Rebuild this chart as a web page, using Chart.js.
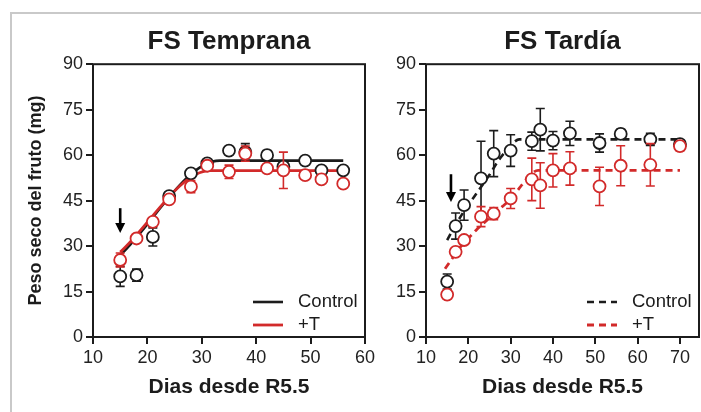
<!DOCTYPE html>
<html>
<head>
<meta charset="utf-8">
<script src="https://cdn.jsdelivr.net/npm/chart.js@4.4.1/dist/chart.umd.min.js"></script>
<style>
html,body{margin:0;padding:0;background:#fff;}
#wrap{position:relative;width:701px;height:412px;overflow:hidden;background:#fff;}
#frame{position:absolute;left:10px;top:12px;width:720px;height:430px;border-left:2px solid #c9c9c9;border-top:2px solid #c9c9c9;}
#c1{position:absolute;left:0;top:0;}
#c2{position:absolute;left:380px;top:0;}
</style>
</head>
<body>
<div id="wrap">
<div id="frame"></div>
<canvas id="c1" width="380" height="412"></canvas>
<canvas id="c2" width="335" height="412"></canvas>
</div>
<script>
// ---------- FS Temprana (early) ----------
const earlyDays       = [15, 18, 21, 24, 28, 31, 35, 38, 42, 45, 49, 52, 56];
const earlyControl    = [20, 20.4, 33, 46.5, 54, 57.3, 61.5, 61, 60, 56.2, 58.2, 55, 55];
const earlyControlErr = [3.3, 2, 3, 1, 1, 1, 1, 2.8, 1.5, 1.5, 1, 1.2, 1];
const earlyT          = [25.4, 32.5, 38, 45.4, 49.6, 56.5, 54.5, 60.5, 55.6, 55, 53.4, 52, 50.6];
const earlyTErr       = [2.3, 1, 1, 1, 2, 1, 2.2, 2.5, 1, 6, 1, 1, 1];
const earlyFitDaysControl = [15, 33.3, 56];
const earlyFitControl     = [27, 58.2, 58.2];
const earlyFitDaysT       = [15, 31.5, 56];
const earlyFitT           = [28, 54.9, 54.9];

// ---------- FS Tardía (late) ----------
const lateDays       = [15, 17, 19, 23, 26, 30, 35, 37, 40, 44, 51, 56, 63, 70];
const lateControl    = [18.3, 36.6, 43.5, 52.3, 60.5, 61.5, 64.6, 68.4, 64.8, 67.2, 64, 67, 65.2, 63.6];
const lateControlErr = [2.5, 4.3, 5, 12.3, 7.6, 5.2, 3, 7, 3, 4, 3, 1.5, 2, 1];
const lateT          = [14, 28.1, 32, 39.7, 40.7, 45.7, 52, 50, 55, 55.6, 49.7, 56.5, 56.8, 63];
const lateTErr       = [1, 1, 1, 3.3, 2, 3.3, 7, 7.5, 5.5, 5.5, 6.3, 6.6, 7, 1.5];
const lateFitDaysControl = [15, 17, 19, 21, 23, 25, 27, 29, 31, 32, 70];
const lateFitControl     = [32, 37, 41.5, 45.5, 49.5, 53.5, 58, 61.5, 64.5, 65.2, 65.2];
const lateFitDaysT       = [14.5, 16, 18, 20, 22, 24, 26, 28, 30, 32, 34, 36.5, 70];
const lateFitT           = [22.5, 25.5, 29.5, 32.5, 35.5, 38, 40.5, 43, 45.5, 49, 52.5, 55, 55];

// ---------- arrows (FS Temprana, FS Tardía) ----------
const arrowDays = [15, 15.9];
const arrowFrom = [42.5, 53.7];
const arrowTo   = [34.3, 44.5];

// ---------- axes ----------
const yTicks = [0, 15, 30, 45, 60, 75, 90];
const titles = ['FS Temprana', 'FS Tardía'];
const xTitle = 'Dias desde R5.5';
const yTitle = 'Peso seco del fruto (mg)';
const seriesNames = ['Control', '+T'];

const BLACK = '#1c1c1c';
const RED = '#d22a2a';
const FONT = "'Liberation Sans', Arial, Helvetica, sans-serif";

const pts = (xs, ys) => xs.map((x, i) => ({x: x, y: ys[i]}));

const errorBarPlugin = {
  id: 'errorBars',
  beforeDatasetDraw(chart, args) {
    const ds = chart.data.datasets[args.index];
    if (!ds.errors) return;
    const {ctx, scales: {x, y}} = chart;
    ctx.save();
    ctx.strokeStyle = ds.borderColor;
    ctx.lineWidth = 1.6;
    ds.data.forEach((p, i) => {
      const e = ds.errors[i];
      const px = x.getPixelForValue(p.x);
      const top = y.getPixelForValue(p.y + e);
      const bot = y.getPixelForValue(p.y - e);
      ctx.beginPath();
      ctx.moveTo(px, top); ctx.lineTo(px, bot);
      ctx.moveTo(px - 4.5, top); ctx.lineTo(px + 4.5, top);
      ctx.moveTo(px - 4.5, bot); ctx.lineTo(px + 4.5, bot);
      ctx.stroke();
    });
    ctx.restore();
  }
};

const framePlugin = {
  id: 'frame',
  beforeDatasetsDraw(chart) {
    const {ctx, chartArea: a} = chart;
    ctx.save();
    ctx.strokeStyle = BLACK;
    ctx.lineWidth = 2;
    ctx.strokeRect(a.left, a.top, a.right - a.left, a.bottom - a.top);
    ctx.restore();
  }
};

const legendPlugin = {
  id: 'innerLegend',
  afterDraw(chart) {
    const {ctx, chartArea: a} = chart;
    const items = chart.data.datasets.filter(d => d.inLegend);
    ctx.save();
    items.forEach((d, i) => {
      const yy = a.bottom - 35 + i * 23;
      ctx.strokeStyle = d.borderColor;
      ctx.lineWidth = d.borderWidth;
      ctx.setLineDash(d.borderDash || []);
      ctx.beginPath();
      ctx.moveTo(a.right - 112, yy);
      ctx.lineTo(a.right - 82, yy);
      ctx.stroke();
      ctx.setLineDash([]);
      ctx.fillStyle = BLACK;
      ctx.font = '18.5px ' + FONT;
      ctx.textBaseline = 'middle';
      ctx.textAlign = 'left';
      ctx.fillText(d.label, a.right - 67, yy);
    });
    ctx.restore();
  }
};

const arrowPlugin = {
  id: 'arrow',
  afterDatasetsDraw(chart, args, opts) {
    const {ctx, scales: {x, y}} = chart;
    const px = x.getPixelForValue(opts.day);
    const y0 = y.getPixelForValue(opts.from);
    const y1 = y.getPixelForValue(opts.to);
    ctx.save();
    ctx.strokeStyle = '#000';
    ctx.fillStyle = '#000';
    ctx.lineWidth = 2.6;
    ctx.beginPath();
    ctx.moveTo(px, y0); ctx.lineTo(px, y1 - 8);
    ctx.stroke();
    ctx.beginPath();
    ctx.moveTo(px - 5, y1 - 10);
    ctx.lineTo(px + 5, y1 - 10);
    ctx.lineTo(px, y1);
    ctx.closePath();
    ctx.fill();
    ctx.restore();
  }
};

function makeChart(canvasId, cfg) {
  const datasets = [
    {
      type: 'line', label: seriesNames[0], inLegend: true,
      data: pts(cfg.fitDaysC, cfg.fitC),
      borderColor: BLACK, borderWidth: 2.6, borderDash: cfg.dash ? [7, 5] : [],
      pointRadius: 0, fill: false, order: 6,
      cubicInterpolationMode: 'monotone'
    },
    {
      type: 'line', label: seriesNames[1], inLegend: true,
      data: pts(cfg.fitDaysT, cfg.fitT),
      borderColor: RED, borderWidth: 2.8, borderDash: cfg.dash ? [7, 5] : [],
      pointRadius: 0, fill: false, order: 5,
      cubicInterpolationMode: 'monotone'
    },
    {
      type: 'scatter', label: seriesNames[0] + ' datos',
      data: pts(cfg.days, cfg.control), errors: cfg.controlErr,
      borderColor: BLACK, backgroundColor: '#fff',
      pointRadius: 6, pointBorderWidth: 1.8, pointHoverRadius: 6, order: 2
    },
    {
      type: 'scatter', label: seriesNames[1] + ' datos',
      data: pts(cfg.days, cfg.t), errors: cfg.tErr,
      borderColor: RED, backgroundColor: '#fff',
      pointRadius: 6, pointBorderWidth: 1.8, pointHoverRadius: 6, order: 1
    }
  ];
  return new Chart(document.getElementById(canvasId), {
    type: 'scatter',
    data: {datasets},
    plugins: [errorBarPlugin, framePlugin, legendPlugin, arrowPlugin],
    options: {
      responsive: false,
      animation: false,
      events: [],
      layout: {padding: {left: 0, right: cfg.padRight, top: 0, bottom: 0}},
      plugins: {
        legend: {display: false},
        tooltip: {enabled: false},
        title: {
          display: true, text: cfg.title, fullSize: false,
          color: BLACK,
          font: {family: FONT, size: 26, weight: 'bold', lineHeight: 1.2},
          padding: {top: 26, bottom: 7}
        },
        arrow: cfg.arrow
      },
      scales: {
        x: {
          type: 'linear', min: 10, max: cfg.xMax,
          afterFit: s => { s.height = 75; },
          ticks: {stepSize: 10, includeBounds: false, color: '#222', padding: 3,
                  font: {family: FONT, size: 18}},
          grid: {display: true, drawOnChartArea: false, drawTicks: true, tickLength: 7,
                 color: BLACK, lineWidth: 2},
          border: {display: false},
          title: {display: true, text: xTitle, color: BLACK,
                  font: {family: FONT, size: 21, weight: 'bold', lineHeight: 1.2},
                  padding: {top: 0, bottom: 12}}
        },
        y: {
          type: 'linear', min: 0, max: 90,
          afterFit: s => { s.width = cfg.yWidth; },
          afterBuildTicks: s => { s.ticks = yTicks.map(v => ({value: v})); },
          ticks: {color: '#222', padding: 3, font: {family: FONT, size: 18}},
          grid: {display: true, drawOnChartArea: false, drawTicks: true, tickLength: 7,
                 color: BLACK, lineWidth: 2},
          border: {display: false},
          title: {display: cfg.yTitle, text: yTitle, color: BLACK,
                  font: {family: FONT, size: 18, weight: 'bold', lineHeight: 1.2},
                  padding: {top: 25, bottom: 0}}
        }
      }
    }
  });
}

makeChart('c1', {
  title: titles[0], days: earlyDays, control: earlyControl, controlErr: earlyControlErr,
  t: earlyT, tErr: earlyTErr,
  fitDaysC: earlyFitDaysControl, fitC: earlyFitControl,
  fitDaysT: earlyFitDaysT, fitT: earlyFitT,
  dash: false, xMax: 60, yWidth: 93, padRight: 15, yTitle: true,
  arrow: {day: arrowDays[0], from: arrowFrom[0], to: arrowTo[0]}
});

makeChart('c2', {
  title: titles[1], days: lateDays, control: lateControl, controlErr: lateControlErr,
  t: lateT, tErr: lateTErr,
  fitDaysC: lateFitDaysControl, fitC: lateFitControl,
  fitDaysT: lateFitDaysT, fitT: lateFitT,
  dash: true, xMax: 74.5, yWidth: 46, padRight: 16, yTitle: false,
  arrow: {day: arrowDays[1], from: arrowFrom[1], to: arrowTo[1]}
});
</script>
</body>
</html>
